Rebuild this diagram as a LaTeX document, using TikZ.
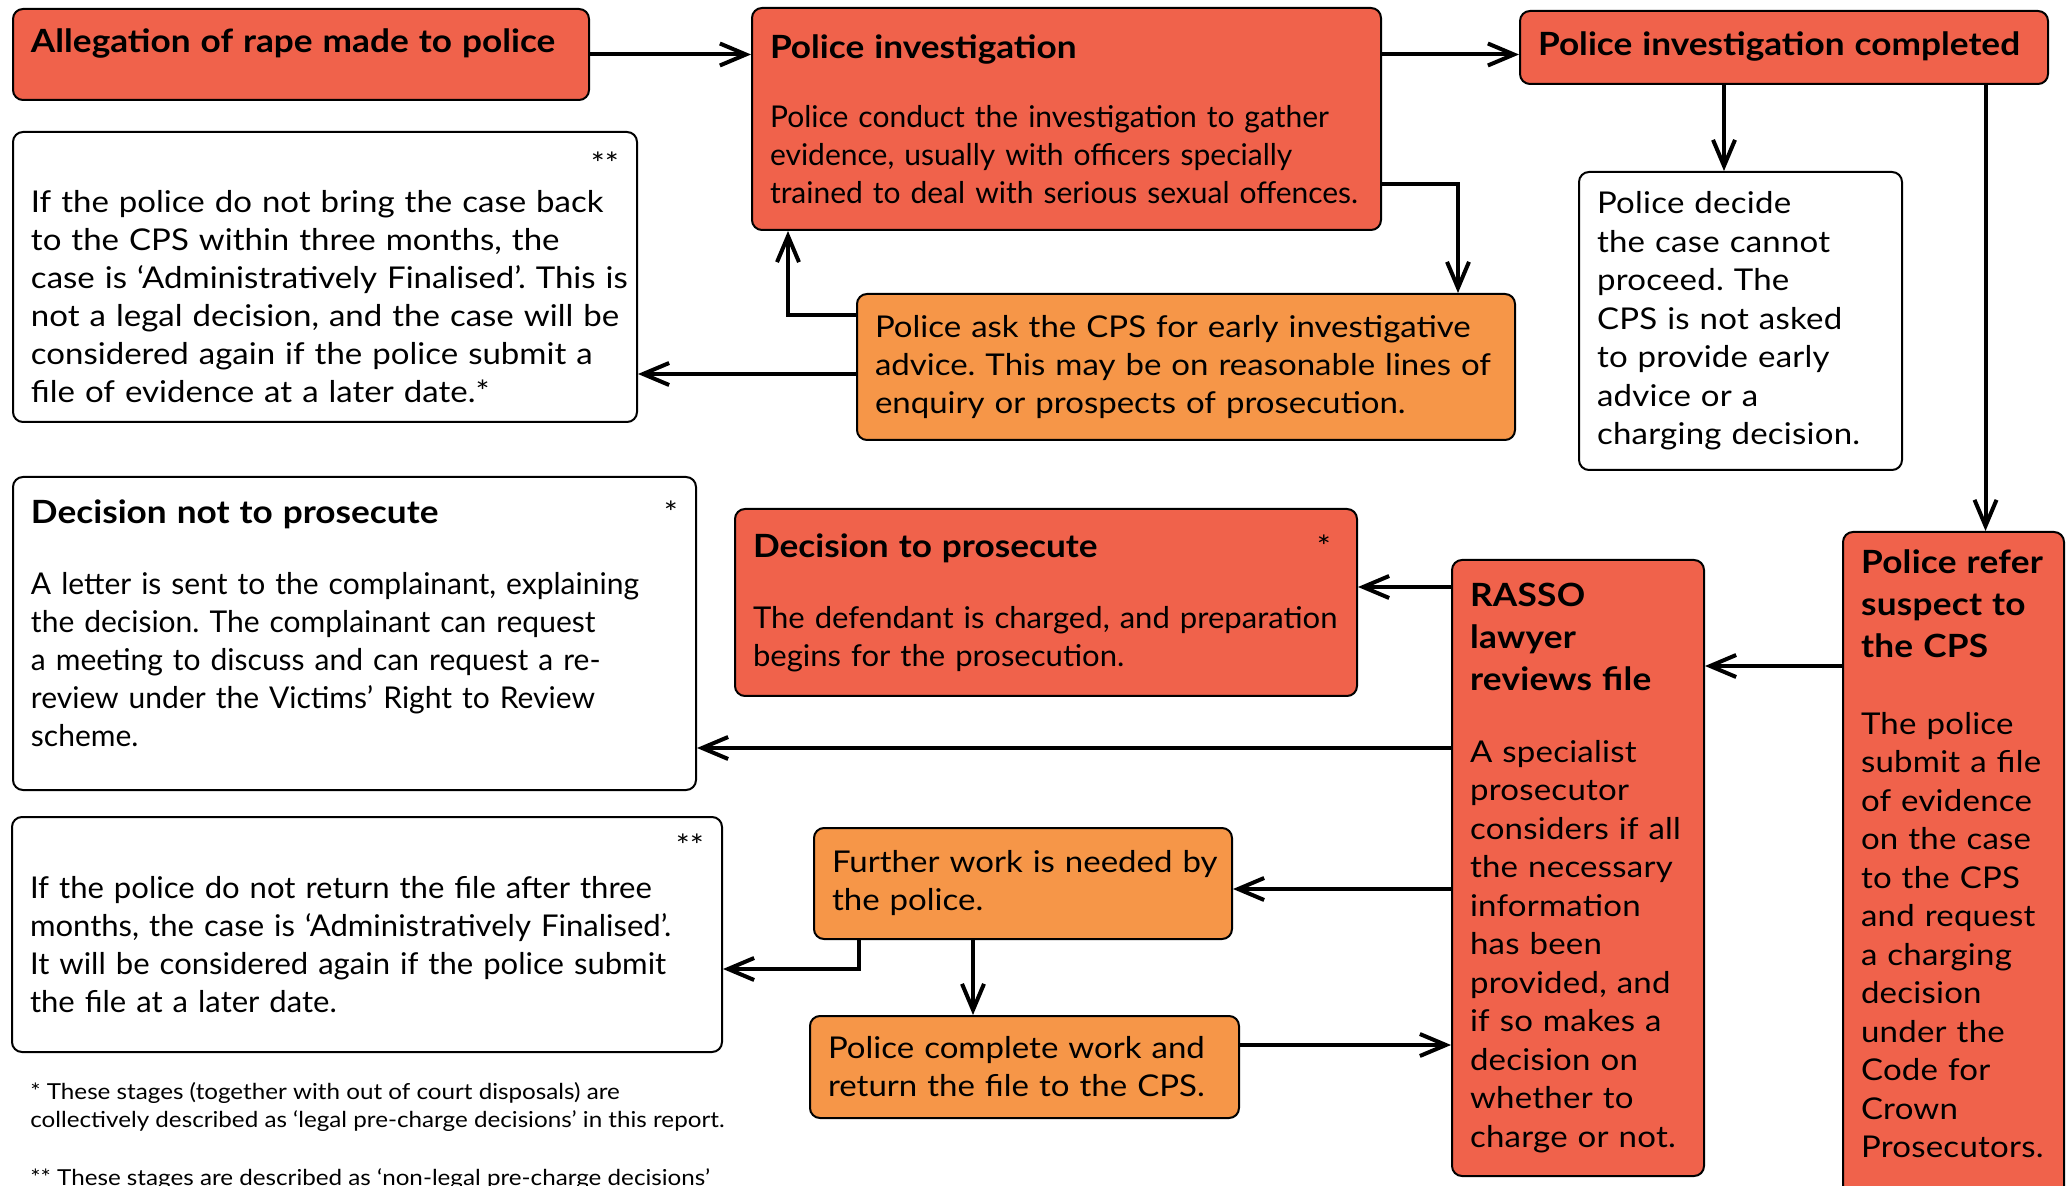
\documentclass[tikz,border=0pt]{standalone}
\usepackage{fontspec}
\setmainfont{Lato}[FakeStretch=1.1]
\newfontfamily\condfont{Lato}[FakeStretch=1.0]
\newfontfamily\midfont{Lato}[FakeStretch=1.035]
\newfontfamily\widefont{Lato}[FakeStretch=1.1,LetterSpace=0.8]
\usetikzlibrary{arrows.meta,positioning}
\definecolor{cpsred}{RGB}{240,98,75}
\definecolor{cpsorange}{RGB}{246,150,72}
\frenchspacing
\newcommand\headtext{\fontsize{16}{21}\selectfont\bfseries\rightskip=-40pt plus 1fil}
\newcommand\bodytext{\normalfont\fontsize{15}{19}\selectfont\rightskip=-40pt plus 1fil}
\newcommand\condtext{\bodytext\condfont}
\newcommand\midtext{\bodytext\midfont}
\newcommand\widetext{\widefont\mdseries\fontsize{15}{19.25}\selectfont\rightskip=-40pt plus 1fil}
\newcommand\padbelow[1]{\rule[-#1]{0pt}{#1}}

\begin{document}
\begin{tikzpicture}[x=0.5pt,y=-0.5pt,inner xsep=9pt,inner ysep=0pt]
\tikzstyle{box}=[rectangle, rounded corners=5pt, draw=black, line width=1pt, anchor=north west, align=left, font=\bodytext]
\tikzstyle{redbox}=[box, fill=cpsred]
\tikzstyle{orangebox}=[box, fill=cpsorange]
\tikzstyle{whitebox}=[box, fill=white]
\tikzstyle{connect}=[-{Straight Barb[length=13pt,width=11pt]}, line width=2pt]
\useasboundingbox (0,0) rectangle (2071,1186);
% top row
\node[redbox, text width=270pt, minimum height=45.5pt] (alg) at (12,8) {\headtext Allegation of rape made to police\padbelow{13.5pt}};
\node[redbox, text width=296.5pt, minimum height=111pt] (pinv) at (751,7) {\headtext Police investigation\\[15.5pt]\condtext Police conduct the investigation to gather\\evidence, usually with officers specially\\trained to deal with serious sexual offences.};
\node[redbox, text width=246pt, minimum height=36.5pt] (pic) at (1519,10) {\headtext Police investigation completed\padbelow{4pt}};
\node[whitebox, text width=294pt, minimum height=145pt] (ast1) at (12,131) {\bodytext\makebox[\linewidth][r]{**}\\If the police do not bring the case back\\to the CPS within three months, the\\case is ‘Administratively Finalised’. This is\\not a legal decision, and the case will be\\considered again if the police submit a\\file of evidence at a later date.*};
\node[orangebox, text width=311pt, minimum height=73pt] (early) at (856,293) {\bodytext Police ask the CPS for early investigative\\advice. This may be on reasonable lines of\\enquiry or prospects of prosecution.};
\node[whitebox, font=\widetext, text width=143.5pt, minimum height=149pt] (pdec) at (1578,171) {\widetext Police decide\\the case cannot\\proceed. The\\CPS is not asked\\to provide early\\advice or a\\charging decision.};
% middle row
\node[whitebox, text width=323.5pt, minimum height=156.5pt] (dnp) at (12,476) {\makebox[\linewidth][l]{\headtext Decision not to prosecute\hfill\bodytext *}\\[16.5pt]\condtext A letter is sent to the complainant, explaining\\the decision. The complainant can request\\a meeting to discuss and can request a re-\\review under the Victims’ Right to Review\\scheme.\padbelow{10.5pt}};
\node[redbox, text width=293pt, minimum height=93.5pt] (dp) at (734,508) {\makebox[\linewidth][l]{\headtext Decision to prosecute\hfill\bodytext *\hspace{4pt}}\\[16.5pt]\midtext The defendant is charged, and preparation\\begins for the prosecution.};
\node[redbox, font=\widetext, text width=108pt, minimum height=308pt] (rasso) at (1451,559) {\headtext RASSO\\lawyer\\reviews file\\[16.5pt]\widetext A specialist\\prosecutor\\considers if all\\the necessary\\information\\has been\\provided, and\\if so makes a\\decision on\\whether to\\charge or not.};
\node[redbox, font=\widetext, text width=92.5pt, minimum height=334.5pt] (refer) at (1842,531) {\headtext Police refer\\suspect to\\the CPS\\[19pt]\widetext The police\\submit a file\\of evidence\\on the case\\to the CPS\\and request\\a charging\\decision\\under the\\Code for\\Crown\\Prosecutors.\padbelow{12.5pt}};
% bottom row
\node[whitebox, text width=337pt, minimum height=117.5pt] (ast2) at (11,816) {\bodytext\makebox[\linewidth][r]{**}\\[2pt]\midtext If the police do not return the file after three\\months, the case is ‘Administratively Finalised’.\\It will be considered again if the police submit\\the file at a later date.\padbelow{11.5pt}};
\node[orangebox, text width=191pt, minimum height=55.5pt] (fw) at (813,827) {\bodytext Further work is needed by\\the police.};
\node[orangebox, text width=196.5pt, minimum height=51pt] (pcw) at (809,1015) {\bodytext Police complete work and\\return the file to the CPS.};
\node[anchor=north west, inner sep=0pt, align=left, font=\fontsize{11}{14}\selectfont] (notes) at (30,1082) {* These stages (together with out of court disposals) are\\collectively described as ‘legal pre-charge decisions’ in this report.\\[15pt]** These stages are described as ‘non-legal pre-charge decisions’};
% connection points
\coordinate (p1) at ([yshift=23.5pt]pinv.south east);
\coordinate (p2) at ([xshift=-29pt]early.north east);
\coordinate (e1) at ([yshift=-11pt]early.north west);
\coordinate (e2) at ([xshift=18.5pt]pinv.south west);
\coordinate (e3) at ([yshift=33.5pt]early.south west);
\coordinate (c1) at ([xshift=-8.25pt]pdec.north);
\coordinate (c2) at ([xshift=16pt]refer.north);
\coordinate (r1) at ([yshift=-67.5pt]refer.north west);
\coordinate (q1) at ([yshift=-14pt]rasso.north west);
\coordinate (q2) at ([yshift=-94.5pt]rasso.north west);
\coordinate (q3) at ([yshift=-165pt]rasso.north west);
\coordinate (w1) at ([yshift=-15pt]pcw.north east);
\coordinate (f1) at ([xshift=-25pt]fw.south);
\coordinate (f2) at ([xshift=23pt]fw.south west);
\coordinate (f3) at ([yshift=-14.5pt]f2);
% arrows
\draw[connect] (alg.east) -- (alg.east -| pinv.west);
\draw[connect] (alg.east -| pinv.east) -- (alg.east -| pic.west);
\draw[connect] (p1) -| (p2);
\draw[connect] (e1) -| (e2);
\draw[connect] (e3) -- (e3 -| ast1.east);
\draw[connect] (c1 |- pic.south) -- (c1);
\draw[connect] (c2 |- pic.south) -- (c2);
\draw[connect] (r1) -- (r1 -| rasso.east);
\draw[connect] (q1) -- (q1 -| dp.east);
\draw[connect] (q2) -- (q2 -| dnp.east);
\draw[connect] (q3) -- (q3 -| fw.east);
\draw[connect] (w1) -- (w1 -| rasso.west);
\draw[connect] (f1) -- (f1 |- pcw.north);
\draw[connect] (f2) -- (f3) -- (f3 -| ast2.east);
\end{tikzpicture}
\end{document}
